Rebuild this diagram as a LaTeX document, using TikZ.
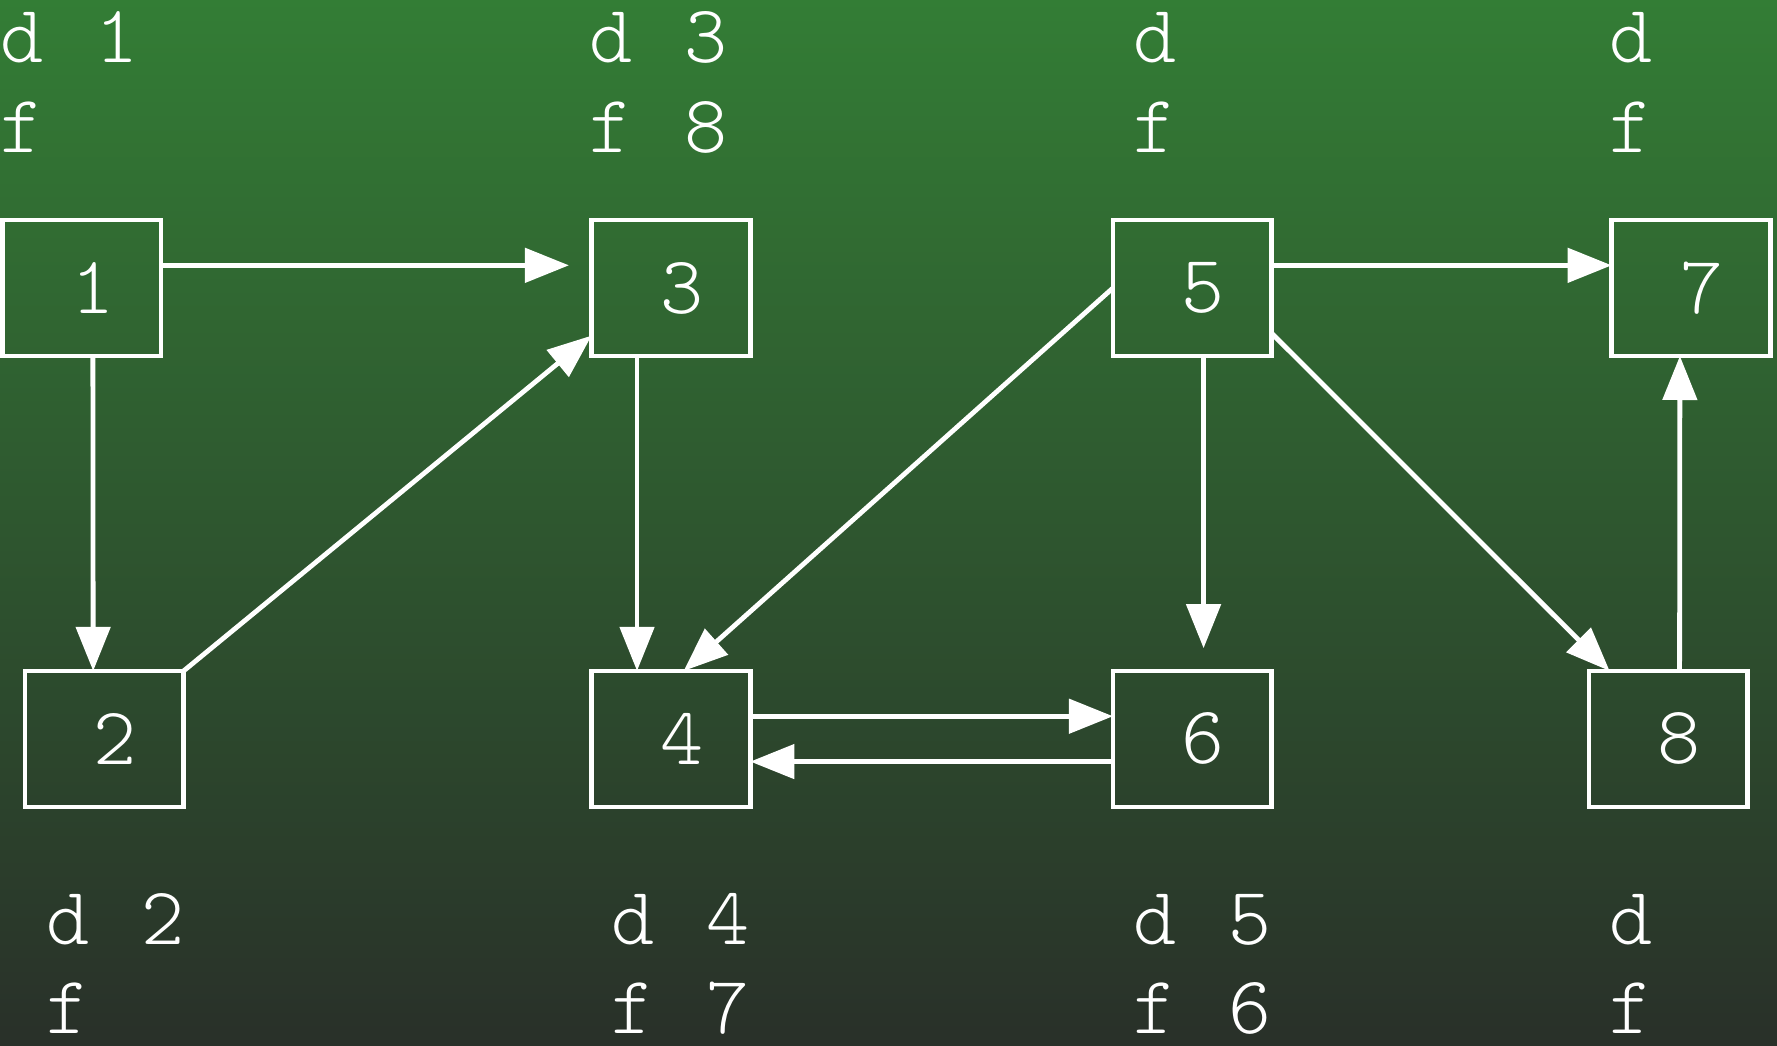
\documentclass[tikz,border=0pt]{standalone}
\usepackage{fontspec}
\newfontfamily\lbfam{lmmonolt10-regular.otf}[WordSpace=1.21]
\usetikzlibrary{arrows.meta,calc}
\definecolor{bgtop}{RGB}{51,125,53}
\definecolor{bgbot}{RGB}{41,48,41}
\newcommand\lblfont{\lbfam\fontsize{82}{90}\selectfont}
\begin{document}
\begin{tikzpicture}[x=1pt,y=-1pt,
  box/.style={draw=white, line width=4.8pt, minimum width=158.7pt, minimum height=136pt, inner sep=0pt, outer sep=0pt, text=white, font=\lblfont},
  lab/.style={anchor=base west, inner sep=0pt, outer sep=0pt, text=white, font=\lblfont},
  edge/.style={draw=white, line width=4.8pt, -{Triangle[length=44pt,width=34pt]}},
  gap/.style={shorten >=22.7pt}]
\useasboundingbox (0,0) rectangle (1777,1046);
\shade[top color=bgtop, bottom color=bgbot] (0,0) rectangle (1777,1046);
% boxes
\node[box] (n1) at (81.6,288) {\hspace*{22pt}1};
\node[box] (n3) at (671,288) {\hspace*{22pt}3};
\node[box] (n5) at (1192.3,288) {\hspace*{22pt}5};
\node[box] (n7) at (1691,288) {\hspace*{22pt}7};
\node[box] (n2) at (104.3,738.9) {\hspace*{22pt}2};
\node[box] (n4) at (671,738.9) {\hspace*{22pt}4};
\node[box] (n6) at (1192.3,738.9) {\hspace*{22pt}6};
\node[box] (n8) at (1668.3,738.9) {\hspace*{22pt}8};
% labels
\node[lab] (d1) at (0,62.3) {d 1};
\node[lab] (f1) at (0,153) {f};
\node[lab] (d3) at (589,62.3) {d 3};
\node[lab] (f3) at (589,153) {f 8};
\node[lab] (d5) at (1133,62.3) {d};
\node[lab] (f5) at (1133,153) {f};
\node[lab] (d7) at (1609,62.3) {d};
\node[lab] (f7) at (1609,153) {f};
\node[lab] (d2) at (46,944) {d 2};
\node[lab] (f2) at (46,1033.6) {f};
\node[lab] (d4) at (611,944) {d 4};
\node[lab] (f4) at (611,1033.6) {f 7};
\node[lab] (d6) at (1133,944) {d 5};
\node[lab] (f6) at (1133,1033.6) {f 6};
\node[lab] (d8) at (1609,944) {d};
\node[lab] (f8) at (1609,1033.6) {f};
% edges
\draw[edge,gap] ($(n1.north east)!1/3!(n1.south east)$) -- ($(n3.north west)!1/3!(n3.south west)$);
\draw[edge] ($(n1.south west)!0.571!(n1.south east)$) -- ($(n2.north west)!0.43!(n2.north east)$);
\draw[edge] (n2.north east) -- ($(n3.north west)!0.85!(n3.south west)$);
\draw[edge] ($(n3.south west)!0.286!(n3.south east)$) -- ($(n4.north west)!0.286!(n4.north east)$);
\draw[edge] (n5.west) -- ($(n4.north west)!0.58!(n4.north east)$);
\draw[edge] ($(n5.north east)!1/3!(n5.south east)$) -- ($(n7.north west)!1/3!(n7.south west)$);
\draw[edge,gap] ($(n5.south west)!0.571!(n5.south east)$) -- ($(n6.north west)!0.571!(n6.north east)$);
\draw[edge] ($(n5.north east)!0.833!(n5.south east)$) -- ($(n8.north west)!0.13!(n8.north east)$);
\draw[edge] ($(n8.north west)!0.571!(n8.north east)$) -- ($(n7.south west)!0.43!(n7.south east)$);
\draw[edge] ($(n4.north east)!1/3!(n4.south east)$) -- ($(n6.north west)!1/3!(n6.south west)$);
\draw[edge] ($(n6.north west)!2/3!(n6.south west)$) -- ($(n4.north east)!2/3!(n4.south east)$);
\end{tikzpicture}
\end{document}
